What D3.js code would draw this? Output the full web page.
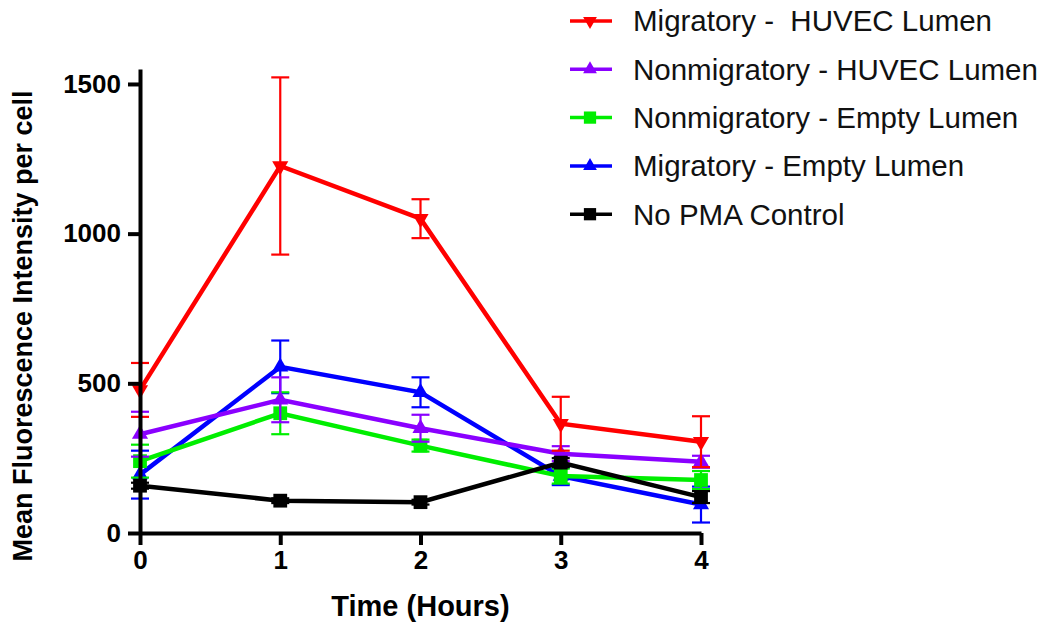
<!DOCTYPE html>
<html>
<head>
<meta charset="utf-8">
<script src="https://cdn.jsdelivr.net/npm/d3@7"></script>
<style>
  body { margin: 0; background: #fff; }
  text { font-family: Arial, "Liberation Sans", sans-serif; }
</style>
</head>
<body>
<div id="d3-container"></div>
<script>
const hours = [0, 1, 2, 3, 4];
const seriesNames = [
  'Migratory -  HUVEC Lumen',
  'Nonmigratory - HUVEC Lumen',
  'Nonmigratory - Empty Lumen',
  'Migratory - Empty Lumen',
  'No PMA Control'
];
// means and error (SEM) per hour
const migHuvec = [478, 1226, 1050, 365, 305];
const migHuvecErr = [90, 296, 65, 90, 85];
const nonmigHuvec = [330, 445, 350, 265, 238];
const nonmigHuvecErr = [75, 75, 45, 25, 20];
const nonmigEmpty = [240, 400, 292, 190, 177];
const nonmigEmptyErr = [55, 70, 20, 25, 30];
const migEmpty = [195, 555, 470, 190, 95];
const migEmptyErr = [80, 88, 50, 30, 60];
const noPma = [158, 108, 103, 235, 120];
const noPmaErr = [10, 8, 8, 15, 20];
const yTicks = [0, 500, 1000, 1500];

const width = 1050;
const height = 637;
const margin = { top: 69, bottom: 104, left: 140, right: 349 };

const series = [
  { name: seriesNames[0], values: migHuvec, err: migHuvecErr, color: '#ff0000', shape: 'down' },
  { name: seriesNames[1], values: nonmigHuvec, err: nonmigHuvecErr, color: '#8a00ff', shape: 'up' },
  { name: seriesNames[2], values: nonmigEmpty, err: nonmigEmptyErr, color: '#00ee00', shape: 'square' },
  { name: seriesNames[3], values: migEmpty, err: migEmptyErr, color: '#0000ff', shape: 'up' },
  { name: seriesNames[4], values: noPma, err: noPmaErr, color: '#000000', shape: 'square' }
];
// drawing order, bottom to top
const drawOrder = [3, 2, 1, 4, 0];

const svg = d3.select('#d3-container')
  .append('svg')
  .attr('width', width)
  .attr('height', height);

const x = d3.scaleLinear()
  .domain([0, 4])
  .range([margin.left, width - margin.right]);

const y = d3.scaleLinear()
  .domain([0, 1550])
  .range([height - margin.bottom, margin.top]);

function marker(shape, size) {
  if (shape === 'square') return d3.symbol(d3.symbolSquare, size)();
  return d3.symbol(d3.symbolTriangle, size * 0.75)();
}

const line = d3.line()
  .x((d, i) => x(hours[i]))
  .y(d => y(d));

drawOrder.forEach(k => {
  const s = series[k];
  const g = svg.append('g');

  // error bars
  const eb = g.selectAll('g.err')
    .data(s.values)
    .join('g')
      .attr('stroke', s.color)
      .attr('stroke-width', 2.2);
  eb.append('line')
    .attr('x1', (d, i) => x(hours[i]))
    .attr('x2', (d, i) => x(hours[i]))
    .attr('y1', (d, i) => y(d - s.err[i]))
    .attr('y2', (d, i) => y(d + s.err[i]));
  eb.append('line')
    .attr('x1', (d, i) => x(hours[i]) - 9)
    .attr('x2', (d, i) => x(hours[i]) + 9)
    .attr('y1', (d, i) => y(d + s.err[i]))
    .attr('y2', (d, i) => y(d + s.err[i]));
  eb.append('line')
    .attr('x1', (d, i) => x(hours[i]) - 9)
    .attr('x2', (d, i) => x(hours[i]) + 9)
    .attr('y1', (d, i) => y(d - s.err[i]))
    .attr('y2', (d, i) => y(d - s.err[i]));

  g.append('path')
    .datum(s.values)
    .attr('fill', 'none')
    .attr('stroke', s.color)
    .attr('stroke-width', 4.5)
    .attr('d', line);

  g.selectAll('path.pt')
    .data(s.values)
    .join('path')
      .attr('class', 'pt')
      .attr('fill', s.color)
      .attr('d', marker(s.shape, s.shape === 'square' ? 190 : 150))
      .attr('transform', (d, i) => `translate(${x(hours[i])},${y(d)})` + (s.shape === 'down' ? ' rotate(180)' : ''));
});

function yAxis(g) {
  g.attr('transform', `translate(${margin.left}, 0)`)
    .call(d3.axisLeft(y).tickValues(yTicks).tickFormat(d3.format('d')).tickSize(12).tickSizeOuter(0).tickPadding(7))
    .attr('font-size', '26px')
    .attr('font-weight', 'bold')
    .attr('font-family', 'Arial, "Liberation Sans", sans-serif');
  g.selectAll('.domain, .tick line').attr('stroke', '#000').attr('stroke-width', 4);
}

function xAxis(g) {
  g.attr('transform', `translate(0,${y(0)})`)
    .call(d3.axisBottom(x).tickValues(hours).tickFormat(d3.format('d')).tickSize(12).tickSizeOuter(0).tickPadding(6))
    .attr('font-size', '26px')
    .attr('font-weight', 'bold')
    .attr('font-family', 'Arial, "Liberation Sans", sans-serif');
  g.selectAll('.domain, .tick line').attr('stroke', '#000').attr('stroke-width', 4);
}

svg.append('g').call(xAxis);
svg.append('g').call(yAxis);

svg.append('text')
  .attr('x', (x(0) + x(4)) / 2)
  .attr('y', 616)
  .attr('text-anchor', 'middle')
  .attr('font-size', '29px')
  .attr('font-weight', 'bold')
  .text('Time (Hours)');

svg.append('text')
  .attr('transform', `translate(32, ${(y(0) + y(1550)) / 2 + 25}) rotate(-90)`)
  .attr('text-anchor', 'middle')
  .attr('font-size', '27px')
  .attr('font-weight', 'bold')
  .text('Mean Fluorescence Intensity per cell');

// legend
const legend = svg.append('g')
  .selectAll('g')
  .data(series)
  .join('g')
    .attr('transform', (d, i) => `translate(570, ${21 + i * 48.3})`);

legend.append('line')
  .attr('x1', 0).attr('x2', 42)
  .attr('stroke', d => d.color)
  .attr('stroke-width', 3.5);

legend.append('path')
  .attr('fill', d => d.color)
  .attr('d', d => marker(d.shape, d.shape === 'square' ? 150 : 110))
  .attr('transform', d => 'translate(20,0)' + (d.shape === 'down' ? ' rotate(180)' : ''));

legend.append('text')
  .attr('x', 63)
  .attr('dy', '0.35em')
  .attr('font-size', '29.5px')
  .attr('fill', '#111')
  .attr('xml:space', 'preserve')
  .style('white-space', 'pre')
  .text(d => d.name);
</script>
</body>
</html>
